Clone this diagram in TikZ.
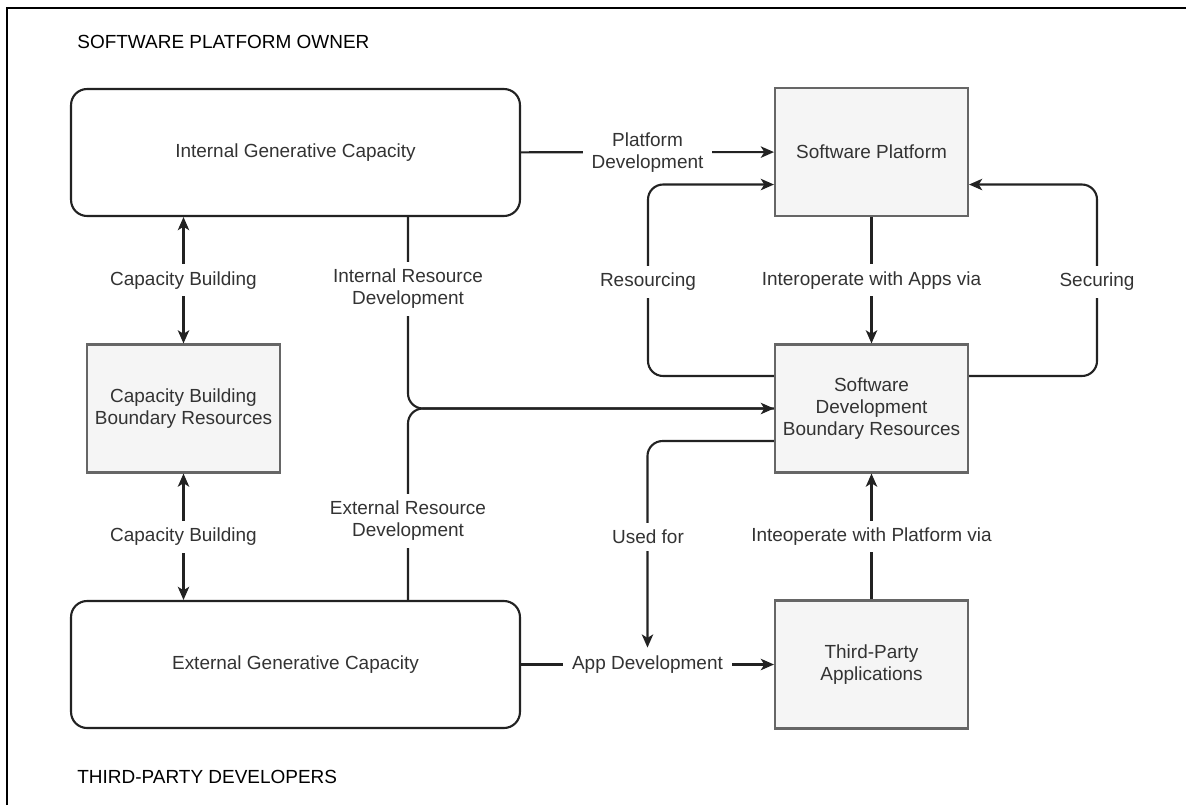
\documentclass[tikz,border=0pt]{standalone}
\usepackage{fontspec}
\setmainfont{Liberation Sans}
\usepackage{tikz}
\usetikzlibrary{arrows.meta}
\usetikzlibrary{calc}
\usetikzlibrary{backgrounds}
\usetikzlibrary{positioning}

\definecolor{boxfill}{HTML}{F5F5F5}
\definecolor{boxline}{HTML}{666666}
\definecolor{txt}{HTML}{333333}
\definecolor{wire}{HTML}{222222}

\begin{document}
\begin{tikzpicture}[x=0.02cm, y=-0.02cm,
        font=\fontsize{10.8pt}{12.5pt}\selectfont,
        >={Stealth[length=7.5pt,width=6.5pt,inset=2pt]},
        link/.style={line width=1.2pt, draw=wire},
        genbox/.style={draw=wire, line width=1.2pt, rounded corners=0.32cm, minimum width=8.98cm, minimum height=2.54cm, text=txt},
        resbox/.style={draw=boxline, line width=1.2pt, fill=boxfill, minimum width=3.86cm, minimum height=2.56cm, align=center, text=txt},
        elabel/.style={fill=white, align=center, text=txt, inner xsep=5pt, inner ysep=4pt},
        title/.style={anchor=west, inner sep=0pt, text=black}]
        \useasboundingbox (0,0) rectangle (1186,805);
        \draw[line width=1.2pt, black] (7,805) |- (1186,8);

        \node[title] (owner) at (77,42) {SOFTWARE PLATFORM OWNER};
        \node[title] (devs) at (77,777) {THIRD-PARTY DEVELOPERS};

        \node[genbox] (igc) at (295.5,152.5) {Internal Generative Capacity};
        \node[genbox] (egc) at (295.5,664.5) {External Generative Capacity};
        \node[resbox] (cbbr) at (183.5,408.5) {Capacity Building\\Boundary Resources};
        \node[resbox] (sp) at (871.5,152) {Software Platform};
        \node[resbox] (sdbr) at (871.5,408.5) {Software\\Development\\Boundary Resources};
        \node[resbox] (tpa) at (871.5,664.5) {Third-Party\\Applications};

        \node[elabel] (resourcing) at (648,282) {Resourcing};
        \node[elabel] (securing) at (1097,282) {Securing};
        \node[elabel] (ird) at (408,289) {Internal Resource\\Development};
        \node[elabel] (erd) at (408,521) {External Resource\\Development};
        \node[elabel] (usedfor) at (648,537) {Used for};

        \draw[link, ->] (igc) -- node[elabel] {Platform\\Development} (sp);
        \draw[link, ->] (sp) -- node[elabel] {Interoperate with Apps via} (sdbr);
        \draw[link, ->] (tpa) -- node[elabel] {Inteoperate with Platform via} (sdbr);
        \draw[link, ->] (egc) -- node[elabel] (appdev) {App Development} (tpa);
        \draw[link, <->] (igc.south -| cbbr) -- node[elabel] {Capacity Building} (cbbr);
        \draw[link, <->] (cbbr) -- node[elabel] {Capacity Building} (egc.north -| cbbr);

        \begin{scope}[on background layer]
        \begin{scope}[rounded corners=0.3cm]
        \draw[link, ->] ($(sdbr.north west)!0.25!(sdbr.south west)$) -| (resourcing.center) |- ($(sp.north west)!0.75!(sp.south west)$);
        \draw[link, ->] ($(sdbr.north east)!0.25!(sdbr.south east)$) -| (securing.center) |- ($(sp.north east)!0.75!(sp.south east)$);
        \draw[link, ->] (ird |- igc.south) |- (sdbr.west);
        \draw[link] (erd |- egc.north) |- (sdbr.west);
        \draw[link, ->] ($(sdbr.north west)!0.75!(sdbr.south west)$) -| (appdev.north);
        \end{scope}
        \end{scope}
\end{tikzpicture}
\end{document}
